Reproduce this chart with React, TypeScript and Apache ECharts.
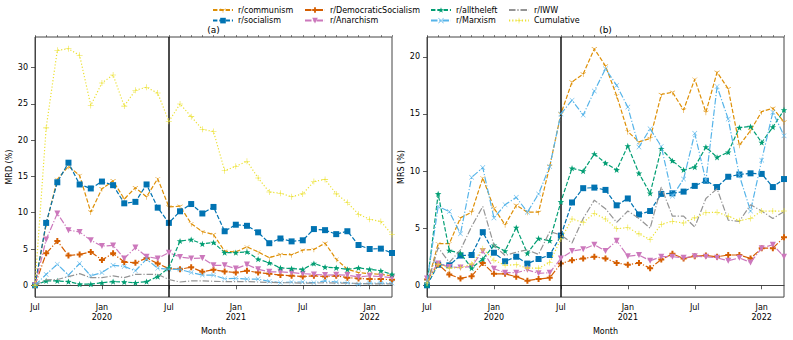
import React, { useEffect, useRef } from 'react';
import * as echarts from 'echarts';

const FONT = 'DejaVu Sans';

const months = [
  '2019-07', '2019-08', '2019-09', '2019-10', '2019-11', '2019-12',
  '2020-01', '2020-02', '2020-03', '2020-04', '2020-05', '2020-06',
  '2020-07', '2020-08', '2020-09', '2020-10', '2020-11', '2020-12',
  '2021-01', '2021-02', '2021-03', '2021-04', '2021-05', '2021-06',
  '2021-07', '2021-08', '2021-09', '2021-10', '2021-11', '2021-12',
  '2022-01', '2022-02', '2022-03',
];
const eventMonth = '2020-07';

const seriesNames = [
  'r/communism', 'r/socialism', 'r/DemocraticSocialism', 'r/Anarchism',
  'r/alltheleft', 'r/Marxism', 'r/IWW', 'Cumulative',
];

// (a) MRD (%)
const mrdCommunism = [0, 8.4, 14.6, 16.4, 15.15, 10.1, 13.3, 14.4, 11.9, 13.45, 12.2, 14.7, 10.8, 10.9, 8.5, 7.4, 7.0, 4.7, 4.6, 5.3, 4.6, 3.8, 4.25, 4.2, 4.85, 4.95, 5.8, 3.6, 2.2, 1.75, 1.6, 1.5, 1.3];
const mrdSocialism = [0, 8.6, 14.2, 16.9, 13.9, 13.35, 14.3, 13.8, 11.3, 11.5, 13.9, 10.7, 8.6, 10.2, 11.2, 9.9, 10.8, 7.45, 8.35, 8.2, 7.3, 5.8, 6.45, 6.05, 6.2, 7.75, 7.6, 7.05, 7.45, 5.55, 5.0, 5.05, 4.45];
const mrdDemSoc = [0, 4.4, 6.1, 4.1, 4.25, 4.6, 3.5, 4.4, 3.2, 3.1, 3.75, 3.0, 2.3, 2.2, 2.5, 1.85, 2.15, 1.9, 1.75, 2.0, 1.75, 1.6, 1.4, 1.3, 1.2, 1.3, 1.2, 1.3, 1.05, 0.95, 0.85, 0.85, 0.75];
const mrdAnarchism = [0, 6.3, 9.9, 7.6, 7.35, 6.2, 5.4, 5.5, 3.7, 5.2, 3.95, 3.7, 4.5, 3.9, 3.7, 3.75, 2.75, 2.75, 2.3, 2.85, 2.2, 1.85, 1.85, 1.75, 1.6, 1.5, 1.4, 1.45, 1.4, 1.15, 1.3, 1.2, 1.05];
const mrdAlltheleft = [0, 0.6, 0.6, 0.5, 0.15, 0.15, 0.35, 0.5, 0.45, 0.35, 0.5, 1.2, 2.4, 6.1, 6.3, 5.7, 5.9, 4.5, 4.5, 4.6, 3.6, 3.1, 2.4, 2.3, 2.2, 3.0, 2.5, 2.4, 2.2, 2.4, 2.2, 2.0, 1.5];
const mrdMarxism = [0, 1.5, 2.9, 1.4, 3.0, 1.3, 1.75, 2.75, 2.6, 2.0, 3.6, 2.35, 2.2, 2.2, 1.75, 1.4, 1.4, 0.9, 0.95, 0.85, 0.85, 0.55, 0.35, 0.45, 0.45, 0.35, 0.6, 0.45, 0.35, 0.15, 0.3, 0.3, 0.3];
const mrdIWW = [0, 0.75, 0.8, 1.2, 1.6, 1.05, 1.05, 1.3, 1.05, 1.5, 1.5, 1.5, 0.8, 0.45, 0.6, 0.6, 0.55, 0.5, 0.5, 0.5, 0.45, 0.4, 0.35, 0.35, 0.3, 0.3, 0.35, 0.3, 0.3, 0.25, 0.2, 0.2, 0.2];
const mrdCumulative = [0, 21.7, 32.4, 32.6, 31.7, 24.8, 27.9, 29.0, 24.7, 26.9, 27.3, 26.5, 22.6, 25.0, 23.25, 21.5, 21.2, 15.8, 16.4, 17.1, 14.8, 12.85, 12.7, 12.2, 12.6, 14.3, 14.6, 12.6, 11.4, 9.8, 9.1, 8.8, 7.0];

// (b) MRS (%)
const mrsCommunism = [0, 3.65, 3.65, 5.9, 6.4, 9.4, 6.75, 5.3, 7.0, 6.4, 6.4, 10.4, 15.0, 17.8, 18.5, 20.7, 19.2, 16.6, 13.45, 12.55, 12.85, 16.7, 16.9, 15.35, 18.05, 15.15, 18.65, 17.2, 12.25, 13.55, 15.2, 15.5, 14.3];
const mrsSocialism = [0, 1.8, 1.75, 2.6, 2.65, 4.65, 2.85, 2.1, 2.5, 1.9, 2.3, 2.65, 4.35, 7.25, 8.5, 8.55, 8.35, 7.0, 7.6, 6.2, 6.5, 8.0, 8.05, 8.2, 8.7, 9.15, 8.6, 9.5, 9.7, 9.8, 9.75, 8.6, 9.3];
const mrsDemSoc = [0.5, 1.85, 0.95, 0.6, 0.8, 1.95, 1.0, 1.0, 0.75, 0.4, 0.55, 0.65, 1.9, 2.2, 2.35, 2.5, 2.35, 1.95, 1.8, 1.95, 1.5, 2.25, 2.75, 2.35, 2.55, 2.6, 2.5, 2.65, 2.65, 2.35, 3.25, 3.25, 4.2];
const mrsAnarchism = [0.6, 1.9, 1.6, 1.55, 1.65, 3.0, 1.45, 1.1, 1.1, 1.35, 1.05, 1.1, 2.35, 3.0, 3.15, 3.55, 3.0, 3.9, 2.55, 2.65, 2.15, 2.5, 2.5, 2.4, 2.55, 2.5, 2.4, 2.15, 2.4, 2.0, 3.25, 3.55, 2.5];
const mrsAlltheleft = [0, 8.0, 3.05, 2.8, 1.5, 2.3, 3.5, 3.0, 5.05, 2.8, 4.1, 3.9, 7.3, 10.25, 10.0, 11.5, 10.7, 10.1, 12.2, 9.8, 8.05, 11.95, 10.9, 10.1, 10.35, 12.1, 11.2, 11.65, 13.8, 13.9, 12.5, 13.85, 15.35];
const mrsMarxism = [0.3, 6.9, 6.45, 4.5, 9.45, 10.3, 5.9, 7.05, 7.7, 6.4, 8.0, 10.4, 15.0, 16.2, 14.9, 17.0, 18.95, 17.5, 15.6, 12.1, 13.7, 12.15, 7.8, 9.3, 13.3, 9.15, 17.4, 14.55, 9.6, 6.5, 10.95, 15.15, 13.1];
const mrsIWW = [0, 3.3, 2.0, 3.1, 5.15, 6.9, 3.5, 2.6, 2.9, 3.1, 2.7, 4.7, 4.4, 3.7, 5.85, 7.45, 6.7, 5.5, 6.5, 5.85, 5.0, 8.6, 6.05, 6.05, 5.1, 7.6, 8.45, 5.7, 5.6, 7.05, 6.5, 5.85, 6.45];
const mrsCumulative = [0.2, 1.85, 1.5, 1.55, 1.85, 3.2, 2.2, 1.75, 1.8, 1.5, 1.5, 2.0, 4.05, 5.8, 5.5, 6.3, 5.8, 4.95, 5.05, 4.5, 4.0, 5.35, 5.6, 5.45, 5.9, 6.35, 6.4, 6.05, 5.65, 5.85, 6.5, 6.5, 6.5];

const mrdValues = [mrdCommunism, mrdSocialism, mrdDemSoc, mrdAnarchism, mrdAlltheleft, mrdMarxism, mrdIWW, mrdCumulative];
const mrsValues = [mrsCommunism, mrsSocialism, mrsDemSoc, mrsAnarchism, mrsAlltheleft, mrsMarxism, mrsIWW, mrsCumulative];

const yTicksA = [0, 5, 10, 15, 20, 25, 30];
const yTicksB = [0, 5, 10, 15, 20];
const panelTitles = ['(a)', '(b)'];
const yNames = ['MRD (%)', 'MRS (%)'];
const xName = 'Month';

// marker shapes
const TRI_DOWN =
  'path://M-0.01,-10L0.01,-10L0,-9.99Z M-0.8,0L0.8,0L0.8,10L-0.8,10Z M0.4,-0.69L-8.26,-5.69L-9.06,-4.31L-0.4,0.69Z M0.4,0.69L9.06,-4.31L8.26,-5.69L-0.4,-0.69Z';
const PLUS_FILLED = 'path://M-3.3,-10L3.3,-10L3.3,-3.3L10,-3.3L10,3.3L3.3,3.3L3.3,10L-3.3,10L-3.3,3.3L-10,3.3L-10,-3.3L-3.3,-3.3Z';
const STAR = 'path://M0,-10L2.35,-3.24L9.51,-3.09L3.8,1.24L5.88,8.09L0,4L-5.88,8.09L-3.8,1.24L-9.51,-3.09L-2.35,-3.24Z';
const XMARK = 'path://M-10,-8.6L-8.6,-10L0,-1.4L8.6,-10L10,-8.6L1.4,0L10,8.6L8.6,10L0,1.4L-8.6,10L-10,8.6L-1.4,0Z';
const PLUS_THIN = 'path://M-0.9,-10L0.9,-10L0.9,-0.9L10,-0.9L10,0.9L0.9,0.9L0.9,10L-0.9,10L-0.9,0.9L-10,0.9L-10,-0.9L-0.9,-0.9Z';

const DASHED = [4.4, 1.9];
const DASHDOT = [6.5, 1.9, 1.2, 1.9];
const DOTTED = [1.2, 2.0];

const styles = [
  { color: '#DE8F05', dash: DASHED, symbol: TRI_DOWN, size: 6, rotate: 0 },
  { color: '#0173B2', dash: DASHED, symbol: 'rect', size: 6, rotate: 0 },
  { color: '#D55E00', dash: DASHDOT, symbol: PLUS_FILLED, size: 6, rotate: 0 },
  { color: '#CC78BC', dash: DASHDOT, symbol: 'triangle', size: 6, rotate: 180 },
  { color: '#029E73', dash: DASHED, symbol: STAR, size: 6.5, rotate: 0 },
  { color: '#56B4E9', dash: DASHDOT, symbol: XMARK, size: 5, rotate: 0 },
  { color: '#949494', dash: DASHDOT, symbol: 'none', size: 0, rotate: 0 },
  { color: '#ECE133', dash: DOTTED, symbol: PLUS_THIN, size: 6, rotate: 0 },
];

const legendColumns = [
  [seriesNames[0], seriesNames[1]],
  [seriesNames[2], seriesNames[3]],
  [seriesNames[4], seriesNames[5]],
  [seriesNames[6], seriesNames[7]],
];
const legendLefts = [212, 304, 430, 508];

function buildOption() {
  const allIdx = months.map((_, i) => i);
  const majorIdx = allIdx.filter((i) => months[i].endsWith('-01') || months[i].endsWith('-07'));
  const eventIdx = months.indexOf(eventMonth);
  const xMax = months.length - 1;

  const panels = [
    { values: mrdValues, ticks: yTicksA, left: 35, nameGap: 20 },
    { values: mrsValues, ticks: yTicksB, left: 427, nameGap: 18 },
  ];

  const textStyle = { fontFamily: FONT, fontSize: 8, color: '#000' };

  const grid: any[] = [];
  const xAxis: any[] = [];
  const yAxis: any[] = [];
  const series: any[] = [];

  panels.forEach((p, pi) => {
    const all = p.values.flat();
    const vMax = Math.max(...all);
    const vMin = Math.min(...all);
    const pad = (vMax - vMin) * 0.05;
    grid.push({
      left: p.left, top: 37, width: 357, height: 261,
      show: true, borderColor: '#444', borderWidth: 1, backgroundColor: 'transparent',
    });
    xAxis.push({
      type: 'value', gridIndex: pi, min: 0, max: xMax,
      axisLine: { show: true, lineStyle: { color: '#444', width: 1 } },
      splitLine: { show: false },
      axisTick: { show: true, customValues: majorIdx, length: 4, lineStyle: { color: '#333', width: 0.8 } },
      axisLabel: {
        customValues: majorIdx, margin: 5, lineHeight: 10, ...textStyle,
        formatter: (v: number) => {
          const m = months[Math.round(v)];
          if (!m) return '';
          const [y, mm] = m.split('-');
          return mm === '01' ? `Jan\n${y}` : 'Jul';
        },
      },
      name: xName, nameLocation: 'middle', nameGap: 24, nameTextStyle: textStyle,
    });
    xAxis.push({
      type: 'value', gridIndex: pi, min: 0, max: xMax,
      axisLine: { show: false }, splitLine: { show: false },
      axisTick: { show: true, customValues: allIdx, length: 2, lineStyle: { color: '#333', width: 0.6 } },
      axisLabel: { show: false },
    });
    yAxis.push({
      type: 'value', gridIndex: pi, min: vMin - pad, max: vMax + pad,
      axisLine: { show: true, lineStyle: { color: '#444', width: 1 } },
      splitLine: { show: false },
      axisTick: { show: true, customValues: p.ticks, length: 4, lineStyle: { color: '#333', width: 0.8 } },
      axisLabel: { customValues: p.ticks, margin: 7, ...textStyle },
      name: yNames[pi], nameLocation: 'middle', nameRotate: 90, nameGap: p.nameGap, nameTextStyle: textStyle,
    });

    seriesNames.forEach((name, si) => {
      const st = styles[si];
      const s: any = {
        type: 'line', name, xAxisIndex: pi * 2, yAxisIndex: pi,
        data: months.map((_, i) => [i, p.values[si][i]]),
        lineStyle: { color: st.color, width: 1.2, type: st.dash },
        itemStyle: { color: st.color },
        symbol: st.symbol, symbolSize: st.size, symbolRotate: st.rotate,
        symbolKeepAspect: true, showSymbol: st.symbol !== 'none',
        emphasis: { disabled: true }, z: 2 + si,
      };
      if (si === 0) {
        s.markLine = {
          silent: true, symbol: 'none', label: { show: false },
          lineStyle: { color: '#111', width: 1.5, type: 'solid' },
          data: [{ xAxis: eventIdx }],
        };
      }
      series.push(s);
    });
  });

  const legend = legendColumns.map((names, c) => ({
    data: names.map((n) => {
      const st = styles[seriesNames.indexOf(n)];
      return st.symbol === 'none' ? { name: n, itemStyle: { opacity: 0 } } : { name: n };
    }),
    orient: 'vertical', left: legendLefts[c], top: 6,
    itemWidth: 20, itemHeight: 7, itemGap: 2.6, padding: 0, selectedMode: false,
    textStyle,
  }));

  const graphic = panelTitles.map((t, pi) => ({
    type: 'text', x: panels[pi].left + 357 / 2, y: 30,
    style: { text: t, fontFamily: FONT, fontSize: 9, fill: '#000', align: 'center', verticalAlign: 'middle' },
  }));

  return { animation: false, backgroundColor: '#fff', grid, xAxis, yAxis, series, legend, graphic };
}

export default function App() {
  const ref = useRef<HTMLDivElement>(null);
  useEffect(() => {
    if (!ref.current) return;
    const chart = echarts.init(ref.current, undefined, { renderer: 'svg' });
    chart.setOption(buildOption() as any);
    return () => chart.dispose();
  }, []);
  return <div ref={ref} style={{ position: 'fixed', left: 0, top: 0, width: 793, height: 340 }} />;
}
